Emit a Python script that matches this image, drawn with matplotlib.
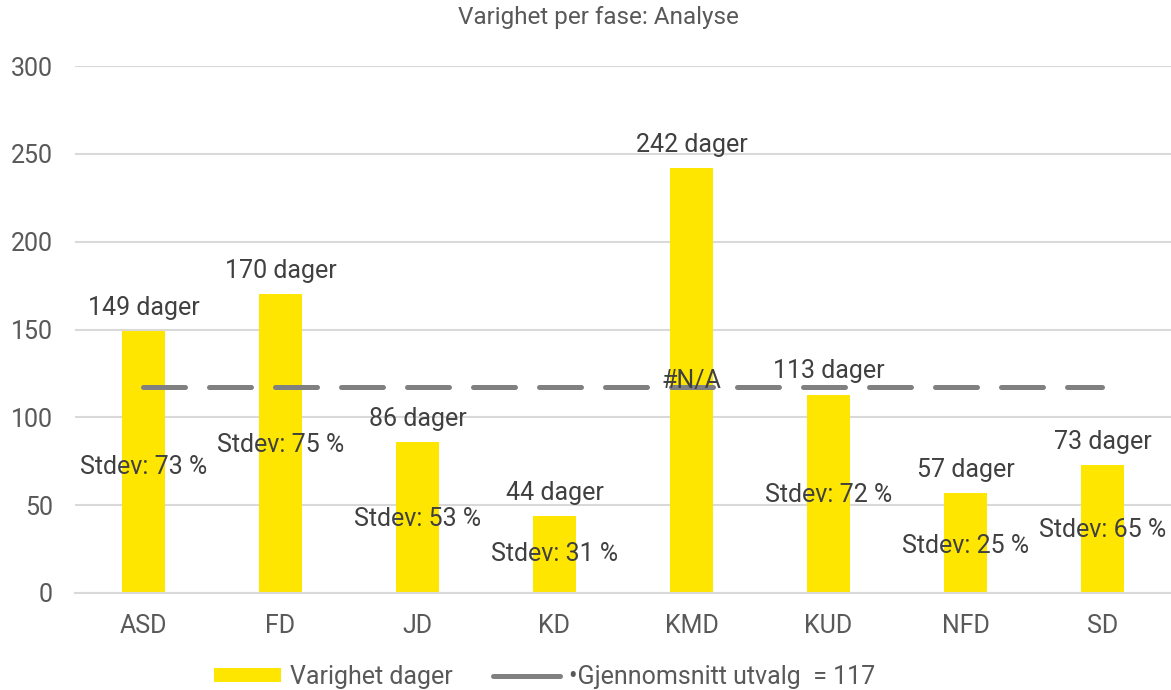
import numpy as np
import matplotlib.pyplot as plt
from matplotlib.patches import Patch
from matplotlib.lines import Line2D

# data
categories = ['ASD', 'FD', 'JD', 'KD', 'KMD', 'KUD', 'NFD', 'SD']
varighet = [149, 170, 86, 44, 242, 113, 57, 73]
stdev_pct = [73, 75, 53, 31, None, 72, 25, 65]
stdev_label_y = [72, 84, 42, 22, None, 56, 27, 36]
gjennomsnitt = 117

yellow = '#FFE600'
grey_line = '#808080'
text_dark = '#404040'
text_mid = '#595959'
fs = 18

plt.rcParams['font.family'] = ['Roboto', 'DejaVu Sans']

fig = plt.figure(figsize=(11.71, 6.9), dpi=100)
ax = fig.add_axes([0.064, 0.1406, 0.936, 0.7637])

x = np.arange(len(categories))
ax.bar(x, varighet, width=0.315, color=yellow, zorder=2)

# average line across all phases
ax.plot([x[0], x[-1]], [gjennomsnitt, gjennomsnitt], color=grey_line, lw=3.6,
        ls=(0, (8.4, 4.8)), dash_capstyle='round', zorder=3)

# value labels above the bars
for xi, v in zip(x, varighet):
    ax.annotate(f'{v} dager', (xi, v), xytext=(0, 8), textcoords='offset points',
                ha='center', va='bottom', fontsize=fs, color=text_dark, zorder=4)

# stdev labels
for xi, s, ly in zip(x, stdev_pct, stdev_label_y):
    if s is None:
        continue
    ax.text(xi, ly, f'Stdev: {s} %', ha='center', va='center', fontsize=fs,
            color=text_dark, zorder=4)

ax.annotate('#N/A', (x[4], gjennomsnitt), xytext=(0, 5), textcoords='offset points',
            ha='center', va='center', fontsize=fs, color=text_dark, zorder=4)

ax.set_xlim(-0.5, 7.5)
ax.set_ylim(0, 300)
ax.set_yticks(range(0, 301, 50))
ax.set_xticks(x)
ax.set_xticklabels(categories)
ax.grid(axis='y', color='#D9D9D9', lw=1.5, zorder=0)
ax.set_axisbelow(True)
for side in ['top', 'right', 'left']:
    ax.spines[side].set_visible(False)
ax.spines['bottom'].set_color('#D9D9D9')
ax.spines['bottom'].set_linewidth(1.5)
ax.tick_params(axis='both', length=0, labelsize=fs, labelcolor=text_mid)
ax.tick_params(axis='x', pad=15)
ax.tick_params(axis='y', pad=16)

fig.text(0.511, 0.974, 'Varighet per fase: Analyse', ha='center', va='center',
         fontsize=17.5, color=text_mid)

handles = [Patch(facecolor=yellow, edgecolor='none'),
           Line2D([0], [0], color=grey_line, lw=3.6, solid_capstyle='round')]
labels = ['Varighet dager', '\u2022Gjennomsnitt utvalg  = 117']
fig.legend(handles, labels, loc='center', bbox_to_anchor=(0.465, 0.019),
           ncol=2, frameon=False, fontsize=fs, labelcolor=text_mid,
           handlelength=2.7, handleheight=0.5, handletextpad=0.35,
           columnspacing=1.6)

fig.savefig('out.png', dpi=100)
